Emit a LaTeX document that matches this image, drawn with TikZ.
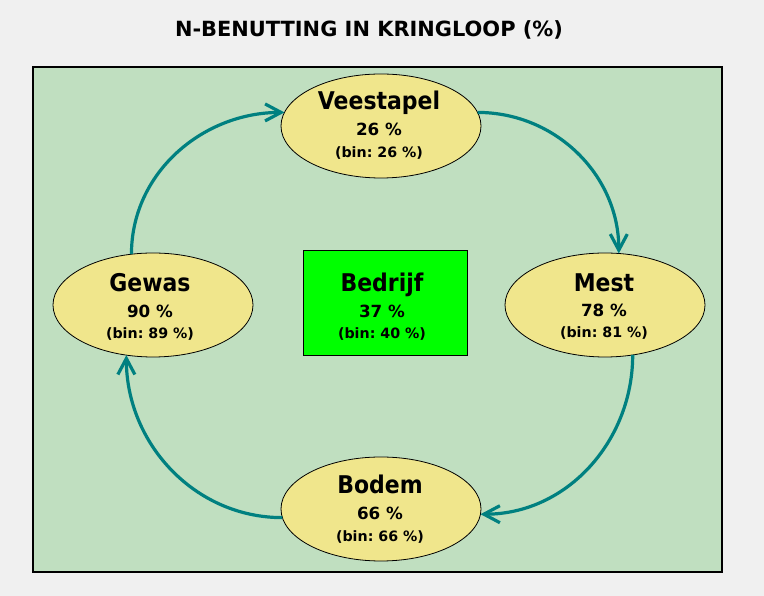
\documentclass[tikz,border=0pt]{standalone}
\usepackage{fontspec}
\setmainfont{DejaVu Sans}
\newfontfamily\namefont{DejaVu Sans}[FakeStretch=0.9]
\usetikzlibrary{arrows.meta,shapes.geometric}
\definecolor{pagebg}{RGB}{240,240,240}
\definecolor{panelgreen}{RGB}{192,223,192}
\definecolor{khakiY}{RGB}{240,230,140}
\definecolor{boxgreen}{RGB}{0,255,0}
\definecolor{flowteal}{RGB}{0,128,128}
\frenchspacing
\tikzset{
  cyclenode/.style={ellipse, draw=black, line width=0.8bp, fill=khakiY,
    minimum width=200bp, minimum height=104bp, inner sep=0pt, outer sep=0pt},
  centerbox/.style={rectangle, draw=black, line width=1bp, fill=boxgreen,
    minimum width=164bp, minimum height=105bp, inner sep=0pt, outer sep=0pt},
  nametxt/.style={anchor=base, inner sep=0pt, font=\namefont\bfseries\fontsize{24.5}{28}\selectfont},
  pcttxt/.style={anchor=base, inner sep=0pt, font=\bfseries\fontsize{16.8}{19}\selectfont},
  bintxt/.style={anchor=base, inner sep=0pt, font=\bfseries\fontsize{14.3}{16}\selectfont},
  titletxt/.style={anchor=base, inner sep=0pt, font=\bfseries\fontsize{21}{25}\selectfont},
  flow/.style={draw=flowteal, line width=3.2bp,
    -{Straight Barb[length=16bp,width=17bp,line width=3.2bp]}}
}
\begin{document}
\begin{tikzpicture}[x=1bp,y=1bp]
\useasboundingbox[fill=pagebg] (0,0) rectangle (764,596);
% panel
\draw[draw=black!35, line width=2.6bp] (33,24) rectangle (722,529);
\draw[fill=panelgreen, draw=black, line width=1.2bp] (33,24) rectangle (722,529);
% title
\node[titletxt] (title) at (369,559) {N-BENUTTING IN KRINGLOOP (\%)};
% nodes
\node[cyclenode] (v) at (381,470) {};
\node[cyclenode] (m) at (605,291) {};
\node[cyclenode] (b) at (381,87) {};
\node[cyclenode] (g) at (153,291) {};
\node[centerbox] (c) at (385,292.5) {};
% texts
\node[nametxt] (vn) at (379,486.5) {Veestapel};
\node[pcttxt]  (vp) at (379,460) {26 \%};
\node[bintxt]  (vb) at (379,438) {(bin: 26 \%)};
\node[nametxt] (mn) at (604,304.5) {Mest};
\node[pcttxt]  (mp) at (604,279) {78 \%};
\node[bintxt]  (mb) at (604,258) {(bin: 81 \%)};
\node[nametxt] (bn) at (380,102.5) {Bodem};
\node[pcttxt]  (bp) at (380,76) {66 \%};
\node[bintxt]  (bb) at (380,54) {(bin: 66 \%)};
\node[nametxt] (gn) at (150,304.5) {Gewas};
\node[pcttxt]  (gp) at (150,278) {90 \%};
\node[bintxt]  (gb) at (150,257) {(bin: 89 \%)};
\node[nametxt] (cn) at (382,304.5) {Bedrijf};
\node[pcttxt]  (cp) at (382,278) {37 \%};
\node[bintxt]  (cb) at (382,257) {(bin: 40 \%)};
% flows
\draw[flow] (v.8) to[out=0,in=90] (m.75);
\draw[flow] (m.-61) to[out=-90,in=0] (b.-3);
\draw[flow] (b.185) to[out=180,in=-90] (g.242);
\draw[flow] (g.113) to[out=90,in=180] (v.172);
\end{tikzpicture}
\end{document}
